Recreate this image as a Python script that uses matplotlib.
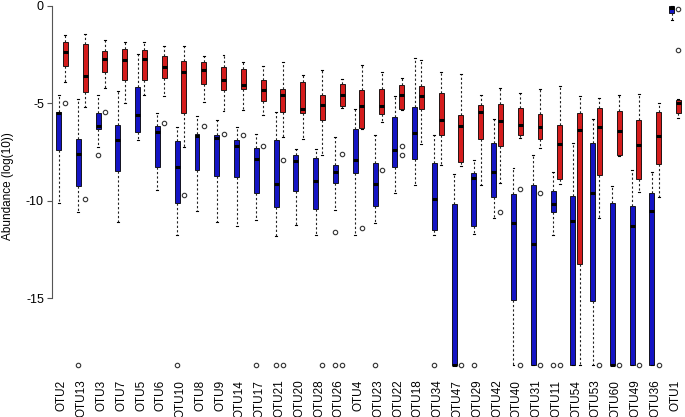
import matplotlib
matplotlib.use("Agg")
import matplotlib.pyplot as plt

plt.rcParams['font.family'] = ['Liberation Sans', 'DejaVu Sans']
plt.rcParams['axes.unicode_minus'] = False

# OTU order along the x axis
otus = ['OTU2', 'OTU13', 'OTU3', 'OTU7', 'OTU5', 'OTU6', 'OTU10', 'OTU8', 'OTU9',
        'OTU14', 'OTU17', 'OTU21', 'OTU20', 'OTU28', 'OTU26', 'OTU4', 'OTU23',
        'OTU22', 'OTU18', 'OTU34', 'OTU47', 'OTU29', 'OTU42', 'OTU40', 'OTU31',
        'OTU11', 'OTU54', 'OTU53', 'OTU60', 'OTU49', 'OTU36', 'OTU1']

# box stats per OTU: (lower whisker, q1, median, q3, upper whisker)
blue_box = [
    (-10.1, -7.4, -5.5, -5.45, -4.6), (-10.6, -9.25, -7.6, -6.85, -4.8),
    (-7.25, -6.35, -6.15, -5.5, -4.6), (-11.1, -8.5, -6.9, -6.1, -4.4),
    (-6.9, -6.5, -5.6, -4.15, -2.5), (-9.45, -8.25, -6.5, -6.15, -5.5),
    (-11.75, -10.1, -8.25, -6.95, -6.2), (-10.55, -8.45, -6.7, -6.6, -5.65),
    (-11.1, -8.75, -6.8, -6.65, -5.85), (-11.3, -8.8, -7.2, -6.9, -6.2),
    (-11.0, -9.6, -7.85, -7.3, -6.6), (-11.8, -10.35, -9.15, -6.9, -5.45),
    (-11.25, -9.5, -7.95, -7.65, -7.35), (-11.75, -10.45, -9.0, -7.8, -7.35),
    (-10.5, -9.1, -8.55, -8.15, -6.75), (-11.75, -8.6, -7.9, -6.35, -5.3),
    (-11.15, -10.3, -9.15, -8.05, -6.65), (-9.6, -8.25, -7.4, -5.7, -4.65),
    (-9.2, -7.85, -6.55, -5.2, -2.7), (-11.75, -11.5, -9.9, -8.05, -6.65),
    (-18.43, -18.43, -18.43, -10.15, -8.65), (-11.7, -11.3, -8.85, -8.6, -7.9),
    (-10.9, -9.8, -8.55, -7.05, -5.8), (-18.43, -15.1, -11.15, -9.65, -8.35),
    (-18.43, -18.43, -12.2, -9.2, -7.65), (-11.75, -10.6, -10.15, -9.5, -8.55),
    (-18.43, -18.43, -11.05, -9.75, -7.05), (-18.43, -15.15, -9.6, -7.05, -5.8),
    (-18.43, -18.43, -18.43, -10.1, -9.25), (-18.43, -18.43, -11.3, -10.3, -8.45),
    (-18.43, -18.43, -10.55, -9.6, -8.55), (-0.75, -0.4, -0.1, 0.0, 0.0),
]
red_box = [
    (-3.9, -3.1, -2.4, -1.85, -1.5), (-5.2, -4.45, -3.6, -1.95, -1.45),
    (-4.2, -3.4, -2.75, -2.35, -1.75), (-5.0, -3.8, -2.8, -2.2, -1.85),
    (-4.6, -3.8, -2.75, -2.25, -1.85), (-4.65, -3.7, -3.15, -2.6, -2.05),
    (-7.25, -5.5, -3.4, -2.85, -2.05), (-4.95, -4.0, -3.3, -2.9, -2.6),
    (-5.4, -4.35, -3.8, -3.15, -2.55), (-5.35, -4.25, -4.05, -3.25, -2.9),
    (-5.6, -4.9, -4.35, -3.8, -3.1), (-6.75, -5.45, -4.6, -4.3, -2.9),
    (-6.85, -5.5, -5.3, -3.9, -3.55), (-7.65, -5.85, -5.1, -4.6, -3.3),
    (-5.25, -5.15, -4.6, -4.0, -3.75), (-6.35, -6.25, -5.15, -4.35, -3.05),
    (-5.95, -5.55, -5.15, -4.3, -3.4), (-5.35, -5.3, -4.6, -4.05, -3.7),
    (-7.1, -5.3, -4.65, -4.1, -2.8), (-8.15, -6.65, -5.85, -4.5, -3.4),
    (-8.2, -8.0, -6.15, -5.6, -3.5), (-9.2, -6.85, -5.45, -5.1, -4.6),
    (-9.1, -7.2, -5.9, -5.05, -4.2), (-6.8, -6.65, -6.1, -5.25, -4.5),
    (-7.3, -6.85, -6.2, -5.55, -4.25), (-9.15, -8.9, -7.1, -6.1, -4.1),
    (-18.43, -13.25, -6.4, -5.5, -4.65), (-10.9, -8.7, -6.2, -5.25, -4.75),
    (-7.7, -7.65, -6.45, -5.4, -4.6), (-9.55, -8.9, -7.15, -5.85, -4.55),
    (-9.8, -8.1, -6.7, -5.45, -5.0), (-5.75, -5.5, -5.0, -4.85, -4.8),
]

# outliers per OTU
blue_out = {'OTU13': [-18.43], 'OTU3': [-7.65], 'OTU10': [-18.43], 'OTU17': [-18.43],
            'OTU21': [-18.43], 'OTU26': [-11.6, -18.43], 'OTU23': [-18.43],
            'OTU34': [-18.43], 'OTU29': [-18.43], 'OTU11': [-18.43]}
red_out = {'OTU2': [-5.0], 'OTU13': [-9.9], 'OTU3': [-5.45], 'OTU6': [-6.0],
           'OTU10': [-9.7], 'OTU8': [-6.15], 'OTU9': [-6.6], 'OTU14': [-6.65],
           'OTU17': [-7.2], 'OTU21': [-7.9, -18.43], 'OTU28': [-18.43],
           'OTU26': [-7.6, -18.43], 'OTU4': [-11.4], 'OTU23': [-8.45],
           'OTU22': [-7.2, -7.65], 'OTU47': [-18.43], 'OTU42': [-10.6],
           'OTU40': [-9.4, -18.43], 'OTU31': [-9.6, -18.43], 'OTU11': [-18.43],
           'OTU53': [-18.43], 'OTU60': [-18.43], 'OTU49': [-18.43],
           'OTU36': [-18.43], 'OTU1': [-0.15, -2.25]}


def make_stats(boxes, outs):
    stats = []
    for name, (lo, q1, med, q3, hi) in zip(otus, boxes):
        stats.append({'whislo': lo, 'q1': q1, 'med': med, 'q3': q3,
                      'whishi': hi, 'fliers': outs.get(name, [])})
    return stats


fig = plt.figure(figsize=(6.85, 4.17), dpi=100)
ax = fig.add_axes([52 / 685, 45 / 417, 633 / 685, 372 / 417])

pos = list(range(len(otus)))
common = dict(widths=0.25, patch_artist=True, capwidths=0.1,
              medianprops=dict(color='black', linewidth=2.2, solid_capstyle='butt'),
              whiskerprops=dict(color='#222222', linewidth=0.8, linestyle=(0, (2, 2))),
              capprops=dict(color='black', linewidth=0.8),
              flierprops=dict(marker='o', markersize=3.2, markerfacecolor='none',
                              markeredgecolor='#333333', markeredgewidth=0.8))

for boxes, outs, off, col in [(blue_box, blue_out, -0.17, '#1414C4'),
                              (red_box, red_out, 0.17, '#D41C1C')]:
    ax.bxp(make_stats(boxes, outs), positions=[p + off for p in pos],
           boxprops=dict(facecolor=col, edgecolor='black', linewidth=0.6),
           **common)

ax.set_xlim(-0.5, len(otus) - 0.5)
ax.set_ylim(-18.79, 0.29)
ax.set_xticks(pos)
ax.set_xticklabels(otus, rotation=90, fontsize=8.5, va='top')
ax.tick_params(axis='x', length=0, pad=5.5)
ax.set_yticks([0, -5, -10, -15])
ax.set_yticklabels(['0', '-5', '-10', '-15'])
ax.tick_params(axis='y', length=3.6, pad=2.2, labelsize=9, color='#555555')
ax.set_ylabel('Abundance (log(10))', fontsize=8.5)
ax.yaxis.set_label_coords(-0.06, 0.5)

for s in ['top', 'right', 'bottom']:
    ax.spines[s].set_visible(False)
ax.spines['left'].set_bounds(-15, 0)
ax.spines['left'].set_color('#555555')

fig.savefig('out.png', dpi=100)
